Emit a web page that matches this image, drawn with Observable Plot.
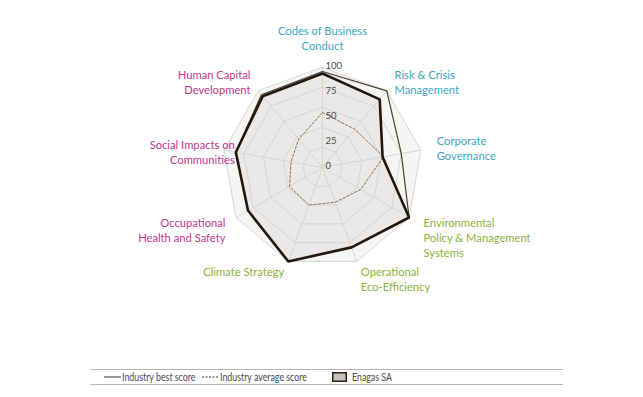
<!DOCTYPE html>
<html><head><meta charset="utf-8">
<script src="https://cdn.jsdelivr.net/npm/d3@7"></script>
<script src="https://cdn.jsdelivr.net/npm/@observablehq/plot@0.6"></script>
<style>
html,body{margin:0;padding:0;background:#fff;}
body{width:643px;height:397px;overflow:hidden;font-family:Lato,"Open Sans",sans-serif;}
#legend{position:relative;width:643px;height:37px;}
#legend .rule{position:absolute;left:90px;width:473px;height:0;border-top:1px solid #b8b6b2;}
#legend .item{position:absolute;top:11px;font-size:10.5px;color:#4a4a4a;line-height:12px;white-space:nowrap;transform:scaleX(0.84);transform-origin:0 50%;}
#legend .sw{position:absolute;}
</style></head><body>
<div id="chart"></div>
<div id="legend"></div>
<script>
// ---- data ----
const categories = [
  "Codes of Business\nConduct",
  "Risk & Crisis\nManagement",
  "Corporate\nGovernance",
  "Environmental\nPolicy & Management\nSystems",
  "Operational\nEco-Efficiency",
  "Climate Strategy",
  "Occupational\nHealth and Safety",
  "Social Impacts on\nCommunities",
  "Human Capital\nDevelopment"
];
const dimensions = ["Economic","Economic","Economic","Environmental","Environmental","Environmental","Social","Social","Social"];
const bestScore    = [96, 100, 80, 100, 85, 100, 86, 88, 95];
const averageScore = [55, 50, 62, 44, 37, 40, 38, 32, 37];
const enagasScore  = [94, 89, 61, 100, 85, 100, 86, 88, 93];
const ringValues = [20, 40, 60, 80, 100];
const tickLabels = [0, 25, 50, 75, 100];
const legendLabels = ["Industry best score", "Industry average score", "Enagas SA"];

// ---- layout helpers ----
const n = categories.length;
const ang = i => (2 * Math.PI * i) / n;
const px = (v, i) => v * Math.sin(ang(i));
const py = (v, i) => v * Math.cos(ang(i));
const dimColor = {Economic: "#3ea6c2", Environmental: "#8bb23a", Social: "#c0378a"};

const polygon = values => values.map((v, i) => ({i, v}));
const rings = ringValues.flatMap(r => categories.map((c, i) => ({r, i})));
const outer = categories.map((c, i) => ({i, v: 100}));

// label placement (layout only)
const labelRadius = i => (i === 7 ? 89 : i === 2 ? 116 : i === 0 ? 118 : 112);
const labelNudge = i => (i === 3 ? [4, -7] : Math.cos(ang(i)) < -0.3 ? [0, -7] : [0, 0]);
const labelData = categories.map((c, i) => ({c, i, d: dimensions[i]}));
const anchorOf = i => {
  const s = Math.sin(ang(i));
  return s > 0.3 ? "start" : s < -0.3 ? "end" : "middle";
};
const lineAnchorOf = i => {
  const co = Math.cos(ang(i));
  return i === 0 ? "bottom" : co < -0.3 ? "top" : "middle";
};

const marks = [
  Plot.line(outer, {x: d => px(d.v, d.i), y: d => py(d.v, d.i), curve: "linear-closed", fill: "#f5f5f4", stroke: "none"}),
  Plot.line(polygon(enagasScore), {x: d => px(d.v, d.i), y: d => py(d.v, d.i), curve: "linear-closed", fill: "#eae9e7", stroke: "none"}),
  Plot.line(rings, {x: d => px(d.r, d.i), y: d => py(d.r, d.i), z: "r", curve: "linear-closed", stroke: "#d3d2d0", strokeWidth: 0.9}),
  Plot.link(categories.map((c, i) => i), {x1: 0, y1: 0, x2: i => px(100, i), y2: i => py(100, i), stroke: "#d3d2d0", strokeWidth: 0.9}),
  Plot.line(polygon(averageScore), {x: d => px(d.v, d.i), y: d => py(d.v, d.i), curve: "linear-closed", stroke: "#7d726a", strokeWidth: 1, strokeDasharray: "2.5,1.8"}),
  Plot.line(polygon(bestScore), {x: d => px(d.v, d.i), y: d => py(d.v, d.i), curve: "linear-closed", stroke: "#4a3c30", strokeWidth: 1.2, strokeLinejoin: "miter"}),
  Plot.line(polygon(enagasScore), {x: d => px(d.v, d.i), y: d => py(d.v, d.i), curve: "linear-closed", stroke: "#20170f", strokeWidth: 2.6, strokeLinejoin: "miter"}),
  Plot.text(tickLabels, {x: 0, y: d => d, text: d => String(d), dx: 3, dy: -2, textAnchor: "start", fontSize: 9.5, fill: "#4a4a4a", fontFamily: "Lato, sans-serif"})
];
for (const la of ["start", "middle", "end"]) {
  for (const lb of ["top", "middle", "bottom"]) {
    const sub = labelData.filter(d => anchorOf(d.i) === la && lineAnchorOf(d.i) === lb);
    if (!sub.length) continue;
    marks.push(Plot.text(sub, {
      x: d => px(labelRadius(d.i), d.i), y: d => py(labelRadius(d.i), d.i),
      text: "c", fill: d => dimColor[d.d], textAnchor: la, lineAnchor: lb,
      dx: 0, dy: 0,
      fontSize: 11.2, lineHeight: 1.34, fontFamily: "Lato, 'Open Sans', sans-serif"
    }));
  }
}

const chart = Plot.plot({
  width: 643, height: 360,
  margin: 0,
  x: {domain: [-100, 100], range: [222, 422], axis: null},
  y: {domain: [-100, 100], range: [267, 67], axis: null},
  color: {type: "identity"},
  marks
});
// apply layout nudges to category labels
document.getElementById("chart").appendChild(chart);
d3.select(chart).selectAll("g[aria-label='text'] > text").each(function (d) {
  const t = d3.select(this);
  const txt = t.text();
  const idx = categories.findIndex(c => c.replace(/\n/g, "") === txt);
  if (idx >= 0) {
    const [nx, ny] = labelNudge(idx);
    const tr = t.attr("transform") || "";
    t.attr("transform", tr + ` translate(${nx},${ny})`);
  }
});

// ---- legend ----
const lg = document.getElementById("legend");
lg.innerHTML = `
<div class="rule" style="top:9px"></div>
<div class="rule" style="top:24px"></div>
<svg class="sw" style="left:104px;top:12px" width="17" height="10"><line x1="0" x2="17" y1="5" y2="5" stroke="#3a3029" stroke-width="1"/></svg>
<div class="item" style="left:122px">${legendLabels[0]}</div>
<svg class="sw" style="left:202px;top:12px" width="17" height="10"><line x1="0" x2="17" y1="5" y2="5" stroke="#3a3029" stroke-width="1" stroke-dasharray="2,1.5"/></svg>
<div class="item" style="left:220px">${legendLabels[1]}</div>
<svg class="sw" style="left:332px;top:12px" width="16" height="11"><rect x="0.75" y="0.75" width="13.5" height="8.5" fill="#c4c0ba" stroke="#2b231d" stroke-width="1.5"/></svg>
<div class="item" style="left:352px">${legendLabels[2]}</div>`;
</script>
</body></html>
